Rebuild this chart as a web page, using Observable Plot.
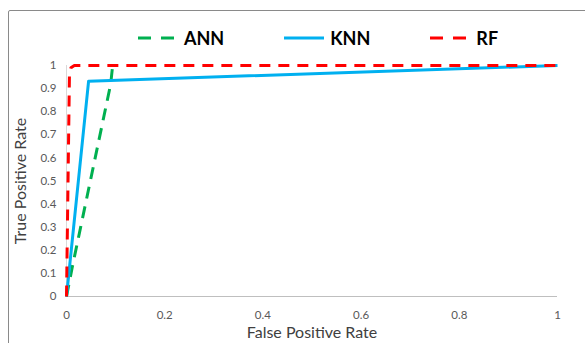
<!DOCTYPE html>
<html>
<head>
<meta charset="utf-8">
<script src="https://cdn.jsdelivr.net/npm/d3@7"></script>
<script src="https://cdn.jsdelivr.net/npm/@observablehq/plot@0.6"></script>
<style>
  body { margin: 0; background: #fff; overflow: hidden; }
  #chart { position: relative; width: 585px; height: 343px; overflow: hidden; font-family: Lato, "Open Sans", sans-serif; }
  #frame { position: absolute; left: 8px; top: 10px; width: 700px; height: 500px; border: 1px solid #8a8a8a; border-radius: 2px; pointer-events: none; }
  #legend { box-sizing: border-box; height: 52px; padding: 28px 0 0 138px; display: flex; gap: 60px; }
  .item { display: flex; align-items: center; height: 20px; gap: 6px; font-weight: 700; font-size: 18px; color: #000; }
  .item svg { display: block; }
  #plot svg { display: block; }
</style>
</head>
<body>
<div id="chart">
  <div id="frame"></div>
  <div id="legend"></div>
  <div id="plot"></div>
</div>
<script>
// ROC curves for three classifiers
const seriesNames = ["ANN", "KNN", "RF"];
const seriesColors = ["#00b050", "#00b0f0", "#ff0000"];
const seriesDash = ["12,8", null, "11,8"];

const fprANN = [0, 0.012, 0.09, 0.094];
const tprANN = [0, 0.13, 0.92, 1];

const fprKNN = [0, 0.045, 1];
const tprKNN = [0, 0.932, 1];

const fprRF = [0, 0.006, 0.009, 0.016, 1];
const tprRF = [0, 0.96, 0.99, 1, 1];

const xTicks = [0, 0.2, 0.4, 0.6, 0.8, 1];
const yTicks = [0, 0.1, 0.2, 0.3, 0.4, 0.5, 0.6, 0.7, 0.8, 0.9, 1];

const xTitle = "False Positive Rate";
const yTitle = "True Positive Rate";

const curves = [
  [fprANN, tprANN],
  [fprKNN, tprKNN],
  [fprRF, tprRF]
].map(([fx, ty], i) => ({
  name: seriesNames[i],
  color: seriesColors[i],
  dash: seriesDash[i],
  points: fx.map((f, j) => ({fpr: f, tpr: ty[j]}))
}));

// Legend row above the chart
const legend = d3.select("#legend");
curves.forEach(c => {
  const item = legend.append("div").attr("class", "item");
  const s = item.append("svg").attr("width", 40).attr("height", 6);
  s.append("line")
    .attr("x1", 0).attr("x2", 40).attr("y1", 3).attr("y2", 3)
    .attr("stroke", c.color).attr("stroke-width", 3)
    .attr("stroke-dasharray", c.dash ? "13,10" : null);
  item.append("span").text(c.name);
});

const fmt = d => String(+d.toFixed(1));

const chart = Plot.plot({
  width: 585,
  height: 291,
  marginTop: 13,
  marginBottom: 47,
  marginLeft: 66,
  marginRight: 28,
  style: {fontFamily: "Lato, 'Open Sans', sans-serif", background: "transparent", overflow: "visible"},
  x: {domain: [0, 1]},
  y: {domain: [0, 1]},
  marks: [
    Plot.ruleY([0], {stroke: "#bfbfbf", strokeWidth: 1}),
    Plot.ruleX([0], {stroke: "#d9d9d9", strokeWidth: 1}),
    Plot.axisX({ticks: xTicks, tickFormat: fmt, tickSize: 0, tickPadding: 14, fontSize: 11.5, fill: "#595959", label: null}),
    Plot.axisY({ticks: yTicks, tickFormat: fmt, tickSize: 0, tickPadding: 10, fontSize: 11.5, fill: "#595959", label: null}),
    ...curves.map(c => Plot.line(c.points, {
      x: "fpr", y: "tpr",
      stroke: c.color, strokeWidth: 3,
      strokeDasharray: c.dash,
      strokeLinecap: "butt", strokeLinejoin: "round"
    })),
    Plot.text([yTitle], {text: d => d, frameAnchor: "left", dx: -46, rotate: -90, textAnchor: "middle", lineAnchor: "middle", fontSize: 16, fill: "#404040"}),
    Plot.text([xTitle], {text: d => d, frameAnchor: "bottom", dy: 36, lineAnchor: "middle", fontSize: 16, fill: "#404040"})
  ]
});
document.getElementById("plot").appendChild(chart);
</script>
</body>
</html>
